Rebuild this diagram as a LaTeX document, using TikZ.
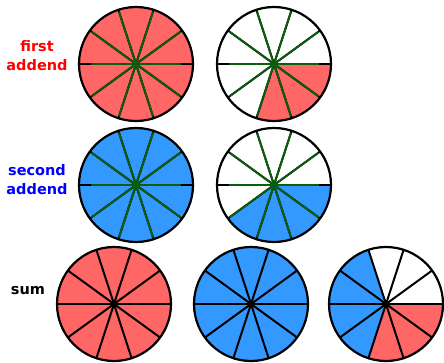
\documentclass[tikz,border=0pt]{standalone}
\usepackage{fontspec}
\setmainfont{DejaVu Sans}
\definecolor{partred}{HTML}{FF6666}
\definecolor{partblue}{HTML}{3399FF}
\definecolor{spokegreen}{HTML}{0B5E0B}
\tikzset{
    rim/.style={draw=black, line width=2.2pt},
    blackspoke/.style={black, line width=2pt},
    greenspoke/.style={spokegreen, line width=1.8pt},
    label/.style={font=\bfseries\fontsize{14.5}{19}\selectfont, anchor=base},
}
% roue de 10 parts
\newcommand{\wheel}[2]{%
    \foreach \a in {0,36,...,324}
        \draw[blackspoke] (#1,#2) -- ++(\a:57);
    \draw[rim] (#1,#2) circle (57);
}
% rayons verts des termes
\newcommand{\greenwheel}[2]{%
    \foreach \a in {36,72,108,144,216,252,288,324}
        \draw[greenspoke] (#1,#2) -- ++(\a:55);
    \draw[greenspoke] (#1,#2) -- ++(0:45);
    \draw[greenspoke] (#1,#2) -- ++(180:45);
    \fill[spokegreen] (#1,#2) circle (3.2);
}

\begin{document}
\begin{tikzpicture}[x=1pt, y=1pt]
    \useasboundingbox (0,-362) rectangle (444,0);

    % Textes
    \node[label, red] (first) at (37,-51) {first};
    \node[label, red] (addend1) at ([yshift=-19pt]first.base) {addend};
    \node[label, blue] (second) at (37,-175) {second};
    \node[label, blue] (addend2) at ([yshift=-19pt]second.base) {addend};
    \node[label, black] (sum) at (28,-294) {sum};

    % Premier terme
    \fill[partred] (136,-64) circle (57);
    \wheel{136}{-64}
    \greenwheel{136}{-64}
    \fill[partred] (274,-64) -- ++(0:57) arc[start angle=0, end angle=-108, radius=57] -- cycle;
    \wheel{274}{-64}
    \greenwheel{274}{-64}

    % Second terme
    \fill[partblue] (136,-185) circle (57);
    \wheel{136}{-185}
    \greenwheel{136}{-185}
    \fill[partblue] (274,-185) -- ++(0:57) arc[start angle=0, end angle=-144, radius=57] -- cycle;
    \wheel{274}{-185}
    \greenwheel{274}{-185}

    % Somme
    \fill[partred] (114,-304) circle (57);
    \wheel{114}{-304}
    \fill[black] (114,-304) circle (3.2);
    \fill[partblue] (251,-304) circle (57);
    \wheel{251}{-304}
    \fill[black] (251,-304) circle (3.2);
    \fill[partred] (386,-304) -- ++(0:57) arc[start angle=0, end angle=-108, radius=57] -- cycle;
    \fill[partblue] (386,-304) -- ++(-108:57) arc[start angle=-108, end angle=-252, radius=57] -- cycle;
    \wheel{386}{-304}
    \fill[black] (386,-304) circle (3.2);
\end{tikzpicture}
\end{document}
